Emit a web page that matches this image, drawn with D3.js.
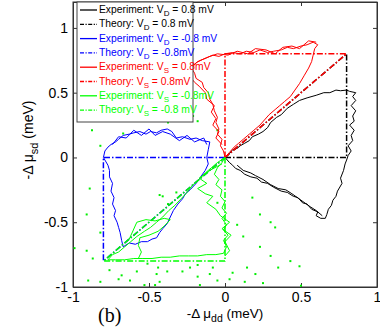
<!DOCTYPE html>
<html>
<head>
<meta charset="utf-8">
<script src="https://cdn.jsdelivr.net/npm/d3@7"></script>
<style>
  body { margin: 0; background: #fff; }
  svg { display: block; font-family: "Liberation Sans", Arial, sans-serif; }
</style>
</head>
<body>
<div id="root"></div>
<script>
// ticks
const xTicks = [-1, -0.5, 0, 0.5, 1];
const yTicks = [-1, -0.5, 0, 0.5, 1];

// legend texts (prefix, subscript, tail)
const legendHeads = ["Experiment: V", "Theory: V", "Experiment: V", "Theory: V",
                     "Experiment: V", "Theory: V", "Experiment: V", "Theory: V"];
const legendSubs = ["D", "D", "D", "D", "S", "S", "S", "S"];
const legendTails = [" = 0.8 mV", " = 0.8 mV", " = -0.8 mV", " = -0.8mV",
                     " = 0.8mV", " = 0.8mV", " = -0.8mV", " = -0.8 mV"];
const legendColors = ["#000000", "#000000", "#0000ff", "#0000ff",
                      "#ff0000", "#ff0000", "#00ff00", "#00ff00"];
const legendDashed = [false, true, false, true, false, true, false, true];

// theory triangles [x, y] in meV
const theoryDPos = [[0, 0], [0.8, 0], [0.8, 0.8], [0, 0]];
const theoryDNeg = [[0, 0], [-0.8, 0], [-0.8, -0.8], [0, 0]];
const theorySPos = [[0, 0], [0, 0.8], [0.8, 0.8], [0, 0]];
const theorySNeg = [[0, 0], [0, -0.8], [-0.8, -0.8], [0, 0]];

// experiment traces
const expDPos = [[0,0],[0.03,0.03],[0.05,0.06],[0.08,0.07],[0.1,0.09],[0.13,0.11],[0.16,0.13],[0.18,0.16],
  [0.22,0.18],[0.25,0.2],[0.28,0.23],[0.3,0.27],[0.34,0.31],[0.37,0.33],[0.41,0.38],[0.45,0.41],[0.49,0.44],
  [0.54,0.46],[0.6,0.48],[0.65,0.5],[0.69,0.5],[0.73,0.52],[0.76,0.515],[0.8,0.52],[0.82,0.51],[0.86,0.5],
  [0.84,0.47],[0.86,0.44],[0.83,0.4],[0.86,0.36],[0.84,0.32],[0.85,0.28],[0.82,0.25],[0.85,0.21],[0.83,0.17],
  [0.84,0.13],[0.81,0.09],[0.83,0.05],[0.81,0.015],[0.8,-0.02],[0.79,-0.05],[0.78,-0.1],[0.76,-0.16],
  [0.77,-0.2],[0.74,-0.26],[0.73,-0.3],[0.71,-0.33],[0.7,-0.37],[0.68,-0.4],[0.67,-0.44],[0.66,-0.47],
  [0.63,-0.47],[0.6,-0.45],[0.61,-0.42],[0.57,-0.4],[0.54,-0.36],[0.51,-0.35],[0.48,-0.31],[0.45,-0.3],
  [0.41,-0.27],[0.37,-0.26],[0.32,-0.23],[0.28,-0.2],[0.24,-0.19],[0.21,-0.16],[0.17,-0.15],[0.13,-0.13],
  [0.1,-0.1],[0.07,-0.085],[0.05,-0.06],[0.03,-0.04],[0,0]];
const expDPos2 = [[0.08,-0.06],[0.12,-0.1],[0.17,-0.12],[0.2,-0.14],[0.25,-0.17],[0.3,-0.21],[0.35,-0.24],
  [0.4,-0.25],[0.44,-0.28],[0.5,-0.33],[0.56,-0.38],[0.6,-0.41],[0.64,-0.45]];

const expDNeg = [[-0.8,0],[-0.79,0.05],[-0.77,0.08],[-0.75,0.1],[-0.72,0.12],[-0.7,0.14],[-0.67,0.17],
  [-0.63,0.18],[-0.6,0.19],[-0.56,0.2],[-0.52,0.18],[-0.49,0.2],[-0.45,0.19],[-0.42,0.21],[-0.38,0.22],
  [-0.35,0.2],[-0.32,0.15],[-0.28,0.16],[-0.23,0.14],[-0.19,0.15],[-0.15,0.13],[-0.1,0.12],[-0.11,0.06],
  [-0.12,0],[-0.11,-0.05],[-0.13,-0.1],[-0.16,-0.15],[-0.19,-0.2],[-0.23,-0.25],[-0.26,-0.28],[-0.28,-0.32],
  [-0.31,-0.36],[-0.34,-0.41],[-0.36,-0.46],[-0.38,-0.51],[-0.41,-0.55],[-0.43,-0.58],[-0.45,-0.62],
  [-0.48,-0.63],[-0.51,-0.65],[-0.55,-0.65],[-0.59,-0.67],[-0.63,-0.66],[-0.67,-0.69],[-0.68,-0.64],
  [-0.69,-0.58],[-0.7,-0.54],[-0.71,-0.5],[-0.73,-0.45],[-0.72,-0.41],[-0.74,-0.36],[-0.73,-0.31],
  [-0.75,-0.26],[-0.74,-0.2],[-0.76,-0.15],[-0.76,-0.1],[-0.77,-0.06],[-0.79,-0.02],[-0.8,0]];
const expDNeg2 = [[-0.74,0.1],[-0.7,0.16],[-0.65,0.15],[-0.6,0.21],[-0.55,0.17],[-0.5,0.22],[-0.46,0.17],
  [-0.41,0.2],[-0.36,0.18],[-0.3,0.13],[-0.25,0.17],[-0.2,0.12],[-0.14,0.15],[-0.12,0.1]];

const expSPos = [[0,0],[-0.01,0.05],[-0.03,0.09],[-0.02,0.14],[-0.05,0.18],[-0.04,0.22],[-0.06,0.27],
  [-0.05,0.31],[-0.07,0.36],[-0.08,0.41],[-0.1,0.45],[-0.11,0.5],[-0.14,0.54],[-0.15,0.58],[-0.19,0.61],
  [-0.2,0.65],[-0.22,0.69],[-0.19,0.73],[-0.16,0.75],[-0.12,0.77],[-0.08,0.79],[-0.04,0.78],[0,0.8],
  [0.05,0.81],[0.1,0.8],[0.14,0.82],[0.19,0.81],[0.23,0.83],[0.28,0.81],[0.32,0.82],[0.37,0.83],[0.41,0.85],
  [0.45,0.84],[0.5,0.86],[0.54,0.87],[0.58,0.89],[0.61,0.87],[0.59,0.84],[0.58,0.79],[0.57,0.74],[0.55,0.69],
  [0.52,0.63],[0.49,0.57],[0.46,0.52],[0.43,0.47],[0.39,0.43],[0.36,0.4],[0.33,0.37],[0.29,0.33],[0.26,0.29],
  [0.23,0.25],[0.19,0.21],[0.16,0.18],[0.12,0.14],[0.09,0.11],[0.06,0.08],[0.03,0.04],[0,0]];
const expSPos2 = [[-0.02,0.1],[-0.06,0.15],[-0.04,0.2],[-0.08,0.25],[-0.06,0.3],[-0.09,0.35],[-0.07,0.4],
  [-0.12,0.45],[-0.13,0.5],[-0.17,0.55],[-0.2,0.58],[-0.24,0.64],[-0.22,0.7],[-0.18,0.74],[-0.1,0.78],
  [-0.05,0.8],[0.02,0.79],[0.08,0.82],[0.15,0.8],[0.2,0.84],[0.27,0.83],[0.33,0.8],[0.38,0.85],[0.44,0.86],
  [0.49,0.84],[0.55,0.9],[0.6,0.89]];

const expSNeg = [[0,0],[-0.02,-0.04],[-0.05,-0.08],[-0.07,-0.13],[-0.04,-0.17],[-0.06,-0.21],[-0.02,-0.25],
  [-0.03,-0.3],[0,-0.34],[-0.02,-0.39],[0.01,-0.43],[-0.02,-0.47],[0.01,-0.52],[-0.01,-0.56],[0.02,-0.6],
  [-0.01,-0.64],[0.01,-0.69],[-0.01,-0.74],[-0.06,-0.75],[-0.12,-0.75],[-0.18,-0.76],[-0.24,-0.76],
  [-0.3,-0.76],[-0.36,-0.77],[-0.42,-0.77],[-0.48,-0.78],[-0.54,-0.78],[-0.6,-0.78],[-0.66,-0.79],
  [-0.72,-0.79],[-0.77,-0.79],[-0.74,-0.75],[-0.7,-0.73],[-0.66,-0.69],[-0.62,-0.65],[-0.58,-0.61],
  [-0.53,-0.57],[-0.49,-0.54],[-0.45,-0.5],[-0.41,-0.46],[-0.37,-0.41],[-0.33,-0.37],[-0.29,-0.32],
  [-0.25,-0.27],[-0.21,-0.21],[-0.17,-0.17],[-0.13,-0.12],[-0.09,-0.08],[-0.05,-0.04],[0,0]];
// second sweeps of the V_S = -0.8 trace
const expSNeg2 = [[-0.02,-0.05],[-0.1,-0.1],[-0.17,-0.16],[-0.12,-0.2],[-0.18,-0.24],[-0.13,-0.28],
  [-0.08,-0.3],[-0.12,-0.35],[-0.06,-0.4],[-0.03,-0.45],[0.03,-0.5],[-0.02,-0.55],[0.04,-0.6],[0,-0.65],
  [0.03,-0.72],[0,-0.76]];
const expSNeg3 = [[-0.63,-0.63],[-0.58,-0.5],[-0.52,-0.48],[-0.46,-0.49],[-0.4,-0.47],[-0.36,-0.48],
  [-0.4,-0.53],[-0.44,-0.57],[-0.5,-0.6],[-0.56,-0.62],[-0.57,-0.68],[-0.55,-0.73],[-0.57,-0.78]];

// stray green points
const greenDots = [[-0.89,-0.24],[-0.91,-0.44],[-0.82,-0.58],[-0.91,-0.72],[-0.87,-0.78],[-0.9,-0.95],
  [-0.82,-0.96],[-0.7,-0.94],[-0.76,-0.87],[-0.58,-0.88],[-0.51,-0.82],[-0.45,-0.9],[-0.38,-0.88],
  [-0.43,-0.96],[-0.28,-0.88],[-0.41,-0.3],[-0.375,-0.36],[-0.32,-0.27],[0.18,-0.31],[0.23,-0.44],
  [0.3,-0.5],[0.33,-0.54],[0.23,-0.69],[0.3,-0.76],[0.35,-0.85],[0.43,-0.8],[0.49,-0.84],[0.145,-0.85],
  [0.2,-0.9],[0.08,-0.52],[0.12,-0.61],[-0.1,-0.9],[-0.05,-0.95],[-0.18,-0.92],[0.03,-0.94],[-0.875,0.21],
  [-0.67,0.185],[-0.82,0.09],[-0.375,0.27],[-0.21,0.32],[-0.05,0.21],[-0.18,0.28],[-0.53,-0.985],
  [-0.46,-0.985],[-0.165,-0.985],[0.25,-0.97],[0.5,-0.99],[0.13,-0.96],[-0.68,-0.91],[-0.625,-0.95],
  [-0.44,-0.85],[-0.23,-0.85],[-0.18,-0.83],[-0.08,-0.85],[0.05,-0.89],[-0.43,-0.29],[-0.05,-0.35],
  [-0.99,-0.7]];

const width = 380, height = 328;
const svg = d3.select("#root").append("svg")
  .attr("width", width)
  .attr("height", height);

const x = d3.scaleLinear().domain([-1, 1]).range([73, 377]);
const y = d3.scaleLinear().domain([-1, 1.2]).range([287, 2]);

const line = d3.line().x(d => x(d[0])).y(d => y(d[1]));
const dashDot = "6,2,1.5,2";

// frame
svg.append("rect")
  .attr("x", x(-1)).attr("y", y(1.2))
  .attr("width", x(1) - x(-1)).attr("height", y(-1) - y(1.2))
  .attr("fill", "#fff").attr("stroke", "#333").attr("stroke-width", 1);

// axes, ticks pointing inward
const fmt = d => String(d);
svg.append("g")
  .attr("transform", `translate(0,${y(-1)})`)
  .call(d3.axisBottom(x).tickValues(xTicks).tickFormat(fmt).tickSizeInner(-4).tickSizeOuter(0).tickPadding(5));
svg.append("g")
  .attr("transform", `translate(${x(-1)},0)`)
  .call(d3.axisLeft(y).tickValues(yTicks).tickFormat(fmt).tickSizeInner(-4).tickSizeOuter(0).tickPadding(5));
svg.append("g")
  .attr("transform", `translate(0,${y(1.2)})`)
  .call(d3.axisTop(x).tickValues(xTicks).tickFormat("").tickSizeInner(-4).tickSizeOuter(0));
svg.append("g")
  .attr("transform", `translate(${x(1)},0)`)
  .call(d3.axisRight(y).tickValues(yTicks).tickFormat("").tickSizeInner(-4).tickSizeOuter(0));

svg.selectAll(".domain").attr("stroke", "#333");
svg.selectAll(".tick line").attr("stroke", "#333");
svg.selectAll(".tick text")
  .attr("font-size", 14)
  .attr("font-family", "Liberation Sans, Arial, sans-serif")
  .attr("fill", "#000");

// experiment and theory traces in legend order
const series = [
  { pts: [expDPos, expDPos2], color: "#000000", dashed: false },
  { pts: [theoryDPos], color: "#000000", dashed: true },
  { pts: [expDNeg, expDNeg2], color: "#0000ff", dashed: false },
  { pts: [theoryDNeg], color: "#0000ff", dashed: true },
  { pts: [expSPos, expSPos2], color: "#ff0000", dashed: false },
  { pts: [theorySPos], color: "#ff0000", dashed: true },
  { pts: [expSNeg, expSNeg2, expSNeg3], color: "#00ff00", dashed: false },
  { pts: [theorySNeg], color: "#00ff00", dashed: true }
];

const plot = svg.append("g");

plot.selectAll("rect.dot")
  .data(greenDots)
  .enter()
  .append("rect")
    .attr("class", "dot")
    .attr("x", d => x(d[0]) - 1)
    .attr("y", d => y(d[1]) - 1)
    .attr("width", 2)
    .attr("height", 2)
    .attr("fill", "#00ee00");

series.forEach(s => {
  s.pts.forEach(p => {
    plot.append("path")
      .attr("d", line(p))
      .attr("fill", "none")
      .attr("stroke", s.color)
      .attr("stroke-width", s.dashed ? 1.5 : 1)
      .attr("stroke-dasharray", s.dashed ? dashDot : null)
      .attr("stroke-linejoin", "round");
  });
});

// legend
const legend = svg.append("g").attr("transform", "translate(77,2)");
legend.append("rect")
  .attr("width", 116).attr("height", 120)
  .attr("fill", "#fff").attr("stroke", "#444").attr("stroke-width", 1);

const rows = legend.selectAll("g.row")
  .data(legendHeads)
  .enter()
  .append("g")
    .attr("class", "row")
    .attr("transform", (d, i) => `translate(0,${8 + i * 14.3})`);

rows.append("line")
  .attr("x1", 3).attr("x2", 20)
  .attr("stroke", (d, i) => legendColors[i])
  .attr("stroke-width", 1.3)
  .attr("stroke-dasharray", (d, i) => legendDashed[i] ? "4,1.5,1.2,1.5" : null);

const labels = rows.append("text")
  .attr("x", 22).attr("y", 3)
  .attr("font-size", 10.3)
  .attr("font-family", "Liberation Sans Narrow, Arial Narrow, Liberation Sans, sans-serif")
  .attr("fill", (d, i) => legendColors[i]);
labels.append("tspan").text(d => d);
labels.append("tspan").attr("dy", 3).attr("font-size", 8).text((d, i) => legendSubs[i]);
labels.append("tspan").attr("dy", -3).text((d, i) => legendTails[i]);

// axis labels
const xl = svg.append("text")
  .attr("x", 225).attr("y", 318)
  .attr("text-anchor", "middle")
  .attr("font-size", 13.5);
xl.append("tspan").text("-\u0394 \u03bc");
xl.append("tspan").attr("dy", 4).attr("font-size", 10.5).text("dd");
xl.append("tspan").attr("dy", -4).text(" (meV)");

const yl = svg.append("text")
  .attr("transform", "translate(33,140) rotate(-90)")
  .attr("text-anchor", "middle")
  .attr("font-size", 14);
yl.append("tspan").text("-\u0394 \u03bc");
yl.append("tspan").attr("dy", 5).attr("font-size", 11).text("sd");
yl.append("tspan").attr("dy", -5).text(" (meV)");

svg.append("text")
  .attr("x", 98).attr("y", 322)
  .attr("font-family", "Liberation Serif, Times New Roman, serif")
  .attr("font-size", 20)
  .text("(b)");
</script>
</body>
</html>
